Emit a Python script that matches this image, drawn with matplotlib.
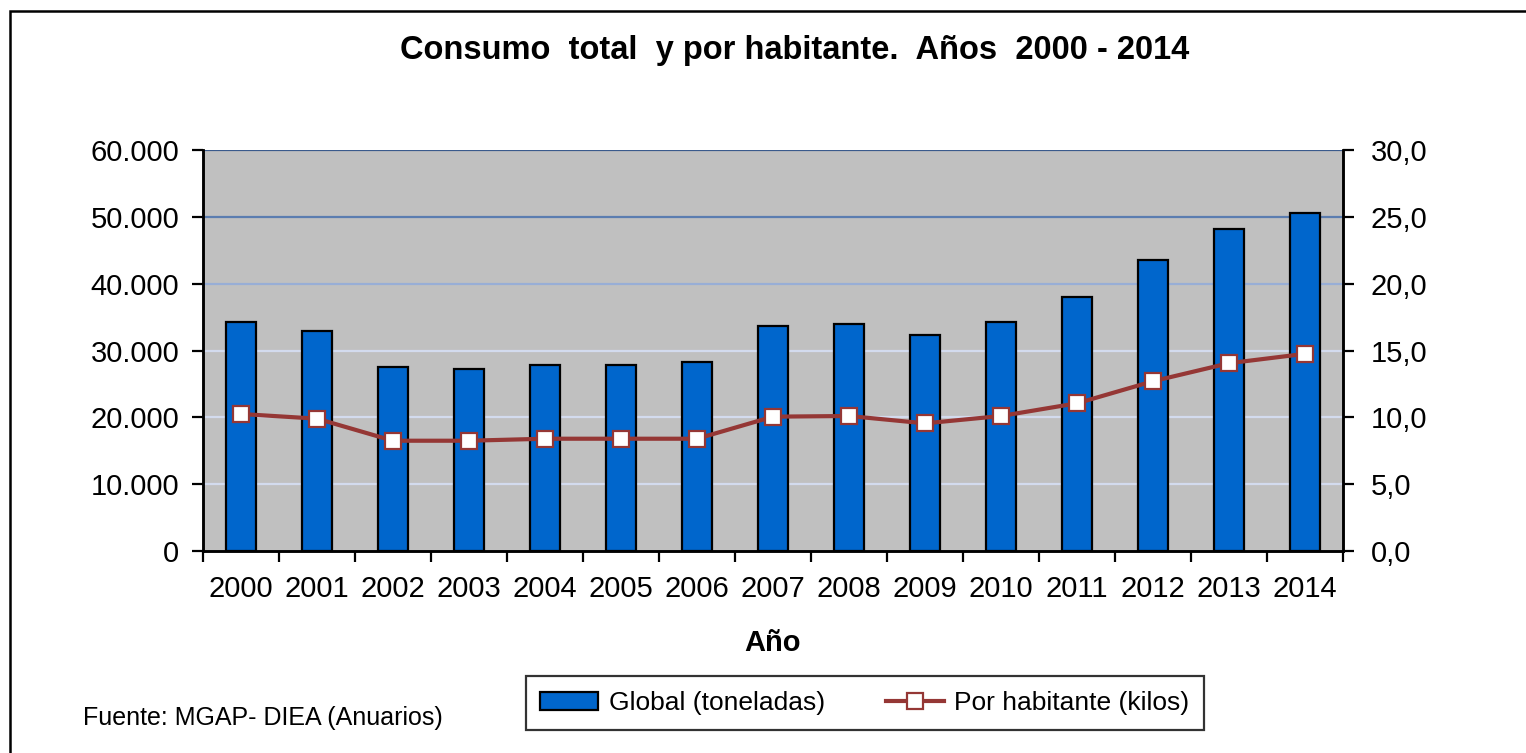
import matplotlib
matplotlib.use("Agg")
import matplotlib.pyplot as plt
import numpy as np
from matplotlib.ticker import FixedLocator, FuncFormatter
from matplotlib.patches import Rectangle

plt.rcParams['font.family'] = ['Liberation Sans', 'DejaVu Sans']

years = ['2000', '2001', '2002', '2003', '2004', '2005', '2006', '2007',
         '2008', '2009', '2010', '2011', '2012', '2013', '2014']
global_ton = [34300, 32900, 27600, 27300, 27900, 27900, 28300, 33600,
              34000, 32300, 34300, 38000, 43600, 48200, 50600]
per_capita = [10.25, 9.9, 8.25, 8.25, 8.4, 8.4, 8.4, 10.05,
              10.1, 9.55, 10.1, 11.05, 12.7, 14.05, 14.75]

title = 'Consumo  total  y por habitante.  Años  2000 - 2014'
xlabel = 'Año'
source = 'Fuente: MGAP- DIEA (Anuarios)'
label_bar = 'Global (toneladas)'
label_line = 'Por habitante (kilos)'

fig = plt.figure(figsize=(15.26, 7.53), dpi=100)
ax = fig.add_axes([203/1526, 1-551/753, 1140/1526, 401/753])
ax2 = ax.twinx()

x = np.arange(len(years))
ax.set_facecolor('#C0C0C0')
ax.set_xlim(-0.5, len(years) - 0.5)
ax.set_ylim(0, 60000)
ax2.set_ylim(0, 30)

grid_colors = {10000: '#D3DBEE', 20000: '#D3DBEE', 30000: '#D3DBEE',
               40000: '#98AED6', 50000: '#5B7DB0', 60000: '#3A5A8C'}
for v, c in grid_colors.items():
    ax.axhline(v, color=c, lw=1.6, zorder=1)

ax.bar(x, global_ton, width=0.40, color='#0066CC', edgecolor='black',
       linewidth=1.6, zorder=2, label=label_bar)
ax2.plot(x, per_capita, color='#953735', lw=3, marker='s', markersize=11,
         markerfacecolor='white', markeredgecolor='#953735', markeredgewidth=1.6,
         zorder=3, label=label_line)
ax2.set_zorder(ax.get_zorder() + 1)
ax2.patch.set_visible(False)

ax.set_yticks(np.arange(0, 60001, 10000))
ax.yaxis.set_major_formatter(FuncFormatter(lambda v, p: f'{int(v):,}'.replace(',', '.')))
ax2.set_yticks(np.arange(0, 30.1, 5))
ax2.yaxis.set_major_formatter(FuncFormatter(lambda v, p: f'{v:.1f}'.replace('.', ',')))

ax.set_xticks(x)
ax.set_xticklabels(years)
ax.xaxis.set_minor_locator(FixedLocator(np.arange(-0.5, len(years), 1)))
ax.tick_params(axis='x', which='major', length=0, pad=17, labelsize=21)
ax.tick_params(axis='x', which='minor', length=8, width=1.6, direction='out')
ax.tick_params(axis='y', length=8, width=1.6, pad=9, labelsize=21)
ax2.tick_params(axis='y', length=8, width=1.6, pad=12, labelsize=21)

for a in (ax, ax2):
    for s in a.spines.values():
        s.set_linewidth(1.8)
    a.spines['top'].set_visible(False)

ax.set_xlabel(xlabel, fontsize=21, fontweight='bold', labelpad=19)

fig.text(795/1526, 1-50/753, title, ha='center', va='center',
         fontsize=23.5, fontweight='bold')
fig.text(83/1526, 1-718/753, source, ha='left', va='center', fontsize=18)

fig.patches.append(Rectangle((10/1526, -0.1), 1.2, 1 - 11/753 + 0.1,
                             transform=fig.transFigure, fill=False,
                             edgecolor='black', lw=1.8))

h1, l1 = ax.get_legend_handles_labels()
h2, l2 = ax2.get_legend_handles_labels()
leg = fig.legend(h1 + h2, l1 + l2, loc='center', ncol=2,
                 bbox_to_anchor=(865/1526, 1-703/753),
                 prop={'size': 19},
                 frameon=True, fancybox=False, edgecolor='black',
                 handlelength=2.2, handletextpad=0.4, columnspacing=2.3,
                 borderpad=0.55)
leg.get_frame().set_linewidth(1.6)

fig.savefig('out.png', dpi=100)
